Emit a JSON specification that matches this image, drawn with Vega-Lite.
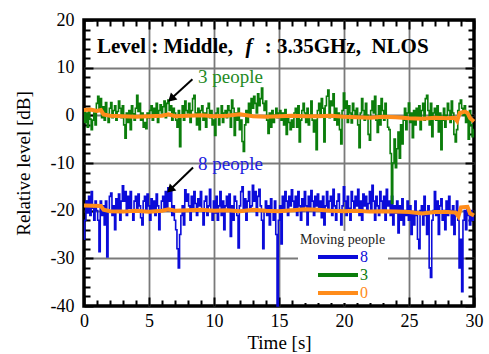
{
"$schema": "https://vega.github.io/schema/vega-lite/v6.json",
"width": 390, "height": 286,
"autosize": {"type": "none"},
"padding": {"left": 84, "top": 20, "right": 15, "bottom": 48},
"config": {"font": "Liberation Serif", "view": {"stroke": "black", "strokeWidth": 3.5},
  "axis": {"labelFont": "Liberation Serif", "titleFont": "Liberation Serif", "labelFontSize": 18, "titleFontSize": 19, "titleFontWeight": "normal", "labelColor": "black", "titleColor": "black", "domain": false, "tickColor": "black", "tickWidth": 2, "gridColor": "#7a7a7a", "gridWidth": 1.8, "labelFlush": false}},
"datasets": {
"noisy": [
{"t":0,"8":-26,"3":1},{"t":0.1,"8":-22,"3":-1.5},{"t":0.2,"8":-18,"3":0.5},{"t":0.3,"8":-20.5,"3":-2.5},{"t":0.4,"8":-17,"3":1.2},{"t":0.5,"8":-21,"3":-0.8},{"t":0.6,"8":-16,"3":-3},{"t":0.7,"8":-19.5,"3":-1},{"t":0.8,"8":-22,"3":0.5},{"t":0.9,"8":-18,"3":-2},
{"t":1,"8":-20,"3":2.5},{"t":1.1,"8":-22,"3":4},{"t":1.2,"8":-28.6,"3":1},{"t":1.3,"8":-18,"3":3.5},{"t":1.4,"8":-21,"3":-0.5},{"t":1.5,"8":-19,"3":1.8},{"t":1.6,"8":-23,"3":-1},{"t":1.7,"8":-18,"3":2.7},{"t":1.8,"8":-29.7,"3":0.2},{"t":1.9,"8":-20,"3":-1.5},
{"t":2,"8":-17,"3":1.5},{"t":2.1,"8":-16.3,"3":2.7},{"t":2.2,"8":-21,"3":-0.5},{"t":2.3,"8":-19,"3":1},{"t":2.4,"8":-24,"3":2},{"t":2.5,"8":-17.5,"3":-1},{"t":2.6,"8":-20,"3":0.8},{"t":2.7,"8":-16.5,"3":3},{"t":2.8,"8":-22,"3":1.5},{"t":2.9,"8":-18,"3":-0.5},
{"t":3,"8":-14.8,"3":2},{"t":3.1,"8":-18,"3":-2},{"t":3.2,"8":-16,"3":-4.8},{"t":3.3,"8":-21,"3":0.5},{"t":3.4,"8":-17,"3":-1.5},{"t":3.5,"8":-19.5,"3":1},{"t":3.6,"8":-16,"3":-3},{"t":3.7,"8":-20,"3":2},{"t":3.8,"8":-22,"3":0.3},{"t":3.9,"8":-18,"3":-1},
{"t":4,"8":-17,"3":1.5},{"t":4.1,"8":-20,"3":4.2},{"t":4.2,"8":-16.5,"3":0.8},{"t":4.3,"8":-19,"3":2.5},{"t":4.4,"8":-21.5,"3":-1},{"t":4.5,"8":-23,"3":0.5},{"t":4.6,"8":-18,"3":-2.5},{"t":4.7,"8":-17,"3":-1.5},{"t":4.8,"8":-20,"3":-2.8},{"t":4.9,"8":-16.5,"3":0.5},
{"t":5,"8":-19,"3":-0.5},{"t":5.1,"8":-22,"3":1},{"t":5.2,"8":-17.5,"3":2},{"t":5.3,"8":-20,"3":-1},{"t":5.4,"8":-18,"3":1.5},{"t":5.5,"8":-21,"3":0},{"t":5.6,"8":-16.5,"3":2.5},{"t":5.7,"8":-19,"3":-1.5},{"t":5.8,"8":-24,"3":1},{"t":5.9,"8":-20,"3":2.2},
{"t":6,"8":-18,"3":0.5},{"t":6.1,"8":-17,"3":1.8},{"t":6.2,"8":-19.5,"3":3},{"t":6.3,"8":-16,"3":-0.5},{"t":6.4,"8":-20,"3":2.5},{"t":6.5,"8":-15.2,"3":3.2},{"t":6.6,"8":-18,"3":1},{"t":6.7,"8":-16,"3":2},{"t":6.8,"8":-21,"3":-1},{"t":6.9,"8":-19,"3":1.5},
{"t":7,"8":-22,"3":0.5},{"t":7.1,"8":-24,"3":-1},{"t":7.2,"8":-28,"3":-2.5},{"t":7.3,"8":-32,"3":1},{"t":7.4,"8":-25,"3":-6.6},{"t":7.5,"8":-21,"3":0},{"t":7.6,"8":-19,"3":2},{"t":7.7,"8":-23,"3":-1},{"t":7.8,"8":-15.6,"3":3},{"t":7.9,"8":-18,"3":1},
{"t":8,"8":-16.5,"3":0.5},{"t":8.1,"8":-19,"3":2.5},{"t":8.2,"8":-22,"3":-1.5},{"t":8.3,"8":-17,"3":1},{"t":8.4,"8":-20,"3":3.5},{"t":8.5,"8":-16,"3":4.2},{"t":8.6,"8":-18.5,"3":0.5},{"t":8.7,"8":-21,"3":-2},{"t":8.8,"8":-17.5,"3":1.5},{"t":8.9,"8":-19,"3":-3},
{"t":9,"8":-16,"3":1},{"t":9.1,"8":-20,"3":2},{"t":9.2,"8":-23,"3":-1},{"t":9.3,"8":-18,"3":0.5},{"t":9.4,"8":-17,"3":-2.5},{"t":9.5,"8":-21,"3":1.5},{"t":9.6,"8":-19,"3":2.5},{"t":9.7,"8":-15.5,"3":-0.5},{"t":9.8,"8":-20,"3":1},{"t":9.9,"8":-22,"3":-2},
{"t":10,"8":-18,"3":-1},{"t":10.1,"8":-20.5,"3":-4.2},{"t":10.2,"8":-17,"3":0.5},{"t":10.3,"8":-22,"3":1.5},{"t":10.4,"8":-19,"3":-2},{"t":10.5,"8":-16,"3":0},{"t":10.6,"8":-21,"3":2},{"t":10.7,"8":-18,"3":-1.5},{"t":10.8,"8":-24,"3":0.5},{"t":10.9,"8":-19,"3":1},
{"t":11,"8":-17,"3":-0.5},{"t":11.1,"8":-20,"3":2},{"t":11.2,"8":-16.5,"3":1},{"t":11.3,"8":-25.4,"3":-2.5},{"t":11.4,"8":-19,"3":3.2},{"t":11.5,"8":-22,"3":1.5},{"t":11.6,"8":-17,"3":-4.2},{"t":11.7,"8":-18,"3":0.5},{"t":11.8,"8":-21,"3":-1},{"t":11.9,"8":-27.8,"3":1.5},
{"t":12,"8":-19,"3":-3},{"t":12.1,"8":-16,"3":-1},{"t":12.2,"8":-15,"3":-5.5},{"t":12.3,"8":-20,"3":-7.6},{"t":12.4,"8":-17.5,"3":-2},{"t":12.5,"8":-22,"3":1},{"t":12.6,"8":-18,"3":-1.5},{"t":12.7,"8":-16,"3":2.5},{"t":12.8,"8":-20,"3":0},{"t":12.9,"8":-19,"3":3.5},
{"t":13,"8":-14.7,"3":1.5},{"t":13.1,"8":-18,"3":4},{"t":13.2,"8":-16,"3":2.5},{"t":13.3,"8":-21,"3":0.5},{"t":13.4,"8":-17,"3":4.5},{"t":13.5,"8":-15.5,"3":2},{"t":13.6,"8":-19,"3":3.5},{"t":13.7,"8":-22,"3":5.7},{"t":13.8,"8":-28,"3":2.5},{"t":13.9,"8":-20,"3":1},
{"t":14,"8":-18,"3":3},{"t":14.1,"8":-21,"3":-1},{"t":14.2,"8":-19,"3":-3.8},{"t":14.3,"8":-23,"3":0.5},{"t":14.4,"8":-17.5,"3":-2.5},{"t":14.5,"8":-20,"3":1},{"t":14.6,"8":-22,"3":-1.5},{"t":14.7,"8":-18,"3":0},{"t":14.8,"8":-25,"3":1.5},{"t":14.9,"8":-40,"3":-0.5},
{"t":15,"8":-22,"3":0.5},{"t":15.1,"8":-19,"3":1},{"t":15.2,"8":-27,"3":-1},{"t":15.3,"8":-17,"3":0.5},{"t":15.4,"8":-20,"3":-2},{"t":15.5,"8":-16,"3":1.2},{"t":15.6,"8":-18,"3":-4},{"t":15.7,"8":-21,"3":0},{"t":15.8,"8":-17,"3":-1.5},{"t":15.9,"8":-19,"3":-3},
{"t":16,"8":-15.6,"3":-1},{"t":16.1,"8":-18,"3":-2.5},{"t":16.2,"8":-20,"3":0.5},{"t":16.3,"8":-17,"3":1.5},{"t":16.4,"8":-21,"3":-2.5},{"t":16.5,"8":-16,"3":2},{"t":16.6,"8":-19,"3":-5.6},{"t":16.7,"8":-22,"3":-1},{"t":16.8,"8":-17.5,"3":1},{"t":16.9,"8":-20,"3":2.5},
{"t":17,"8":-16,"3":0.5},{"t":17.1,"8":-19,"3":-1.5},{"t":17.2,"8":-23,"3":1.5},{"t":17.3,"8":-17,"3":-2},{"t":17.4,"8":-20,"3":0},{"t":17.5,"8":-15.8,"3":3},{"t":17.6,"8":-18,"3":-1},{"t":17.7,"8":-21,"3":-3.5},{"t":17.8,"8":-17,"3":-1},{"t":17.9,"8":-19,"3":-7.2},
{"t":18,"8":-16.5,"3":1},{"t":18.1,"8":-20,"3":2.5},{"t":18.2,"8":-18,"3":0},{"t":18.3,"8":-21.5,"3":3.5},{"t":18.4,"8":-17,"3":1.5},{"t":18.5,"8":-23,"3":-5.6},{"t":18.6,"8":-19,"3":2},{"t":18.7,"8":-16,"3":4},{"t":18.8,"8":-20,"3":5.3},{"t":18.9,"8":-18,"3":-0.5},
{"t":19,"8":-17,"3":3},{"t":19.1,"8":-21,"3":2},{"t":19.2,"8":-15.5,"3":4.5},{"t":19.3,"8":-19,"3":-1},{"t":19.4,"8":-22,"3":1.5},{"t":19.5,"8":-18,"3":-2},{"t":19.6,"8":-16.5,"3":0.5},{"t":19.7,"8":-20,"3":-3},{"t":19.8,"8":-23,"3":-6},{"t":19.9,"8":-19,"3":1},
{"t":20,"8":-15,"3":4.7},{"t":20.1,"8":-18,"3":1.5},{"t":20.2,"8":-21,"3":3},{"t":20.3,"8":-17,"3":-1.5},{"t":20.4,"8":-19.5,"3":2},{"t":20.5,"8":-22,"3":0.5},{"t":20.6,"8":-16,"3":-1.6},{"t":20.7,"8":-18,"3":2.5},{"t":20.8,"8":-20,"3":1},{"t":20.9,"8":-17,"3":-0.5},
{"t":21,"8":-19,"3":1.5},{"t":21.1,"8":-15.5,"3":-2},{"t":21.2,"8":-21,"3":-6.8},{"t":21.3,"8":-18,"3":0.5},{"t":21.4,"8":-22,"3":3.5},{"t":21.5,"8":-16.5,"3":1},{"t":21.6,"8":-19,"3":-1},{"t":21.7,"8":-17,"3":2.5},{"t":21.8,"8":-20,"3":0},{"t":21.9,"8":-18.5,"3":-4},
{"t":22,"8":-16,"3":-5.2},{"t":22.1,"8":-20,"3":1},{"t":22.2,"8":-14.7,"3":3},{"t":22.3,"8":-18,"3":0.5},{"t":22.4,"8":-22,"3":4},{"t":22.5,"8":-17,"3":-1},{"t":22.6,"8":-19,"3":-3.6},{"t":22.7,"8":-21,"3":2},{"t":22.8,"8":-16,"3":-2},{"t":22.9,"8":-18,"3":3.5},
{"t":23,"8":-20,"3":1},{"t":23.1,"8":-17,"3":-1},{"t":23.2,"8":-22,"3":2.5},{"t":23.3,"8":-15.5,"3":-0.5},{"t":23.4,"8":-19,"3":-2.5},{"t":23.5,"8":-18,"3":-3},{"t":23.6,"8":-21,"3":-8},{"t":23.7,"8":-17,"3":-18.5},{"t":23.8,"8":-23,"3":-10},{"t":23.9,"8":-19,"3":-5},
{"t":24,"8":-20.5,"3":-11},{"t":24.1,"8":-18,"3":-7},{"t":24.2,"8":-24.7,"3":-3.5},{"t":24.3,"8":-19,"3":-9},{"t":24.4,"8":-22,"3":-2},{"t":24.5,"8":-17.5,"3":-6},{"t":24.6,"8":-23,"3":-1},{"t":24.7,"8":-20,"3":1.5},{"t":24.8,"8":-21,"3":-3},{"t":24.9,"8":-18,"3":0.5},
{"t":25,"8":-22,"3":2.6},{"t":25.1,"8":-19,"3":-1.5},{"t":25.2,"8":-25,"3":0.5},{"t":25.3,"8":-20.5,"3":-4.7},{"t":25.4,"8":-23,"3":1},{"t":25.5,"8":-18,"3":-2},{"t":25.6,"8":-21,"3":1.5},{"t":25.7,"8":-26,"3":-0.5},{"t":25.8,"8":-28,"3":2},{"t":25.9,"8":-20,"3":-3},
{"t":26,"8":-19,"3":1},{"t":26.1,"8":-23,"3":2.5},{"t":26.2,"8":-17,"3":-1},{"t":26.3,"8":-21,"3":3.5},{"t":26.4,"8":-25,"3":4.2},{"t":26.5,"8":-19,"3":1},{"t":26.6,"8":-32,"3":-2},{"t":26.7,"8":-34,"3":2.5},{"t":26.8,"8":-22,"3":-4.5},{"t":26.9,"8":-20,"3":0.5},
{"t":27,"8":-16,"3":1.5},{"t":27.1,"8":-21,"3":-1},{"t":27.2,"8":-18,"3":2},{"t":27.3,"8":-25,"3":-3.5},{"t":27.4,"8":-19,"3":0.5},{"t":27.5,"8":-17.5,"3":-7.2},{"t":27.6,"8":-22,"3":-1},{"t":27.7,"8":-20,"3":1.5},{"t":27.8,"8":-24,"3":-2.5},{"t":27.9,"8":-18,"3":0},
{"t":28,"8":-21,"3":2.5},{"t":28.1,"8":-17,"3":1},{"t":28.2,"8":-20,"3":-1.5},{"t":28.3,"8":-23,"3":3},{"t":28.4,"8":-19,"3":0.5},{"t":28.5,"8":-25,"3":-4},{"t":28.6,"8":-21,"3":-5.6},{"t":28.7,"8":-18,"3":-3},{"t":28.8,"8":-22,"3":1},{"t":28.9,"8":-32,"3":2.5},
{"t":29,"8":-26,"3":3.2},{"t":29.1,"8":-37,"3":1.5},{"t":29.2,"8":-22,"3":0},{"t":29.3,"8":-20,"3":2},{"t":29.4,"8":-24,"3":-1.5},{"t":29.5,"8":-19,"3":0.5},{"t":29.6,"8":-21,"3":-5},{"t":29.7,"8":-23,"3":1},{"t":29.8,"8":-20,"3":-2},{"t":29.9,"8":-22,"3":-4.5},
{"t":30,"8":-21,"3":-3}
],
"ref": [
{"people":"0","k":"a","t":0,"v":1.1},{"people":"0","k":"a","t":0.5,"v":1.2},{"people":"0","k":"a","t":1,"v":0.9},{"people":"0","k":"a","t":1.3,"v":1.1},{"people":"0","k":"a","t":1.5,"v":0.2},{"people":"0","k":"a","t":2,"v":-0.1},{"people":"0","k":"a","t":3,"v":-0.2},{"people":"0","k":"a","t":4,"v":-0.3},{"people":"0","k":"a","t":5,"v":-0.2},{"people":"0","k":"a","t":6,"v":-0.1},{"people":"0","k":"a","t":6.5,"v":0.2},{"people":"0","k":"a","t":7,"v":-0.2},{"people":"0","k":"a","t":8,"v":-0.1},{"people":"0","k":"a","t":9,"v":0},{"people":"0","k":"a","t":10,"v":-0.2},{"people":"0","k":"a","t":11,"v":-0.1},{"people":"0","k":"a","t":12,"v":0.2},{"people":"0","k":"a","t":13,"v":-0.2},{"people":"0","k":"a","t":14,"v":-0.3},{"people":"0","k":"a","t":15,"v":-0.2},{"people":"0","k":"a","t":16,"v":-0.1},{"people":"0","k":"a","t":17,"v":-0.2},{"people":"0","k":"a","t":18,"v":-0.2},{"people":"0","k":"a","t":19,"v":-0.1},{"people":"0","k":"a","t":20,"v":-0.3},{"people":"0","k":"a","t":21,"v":-0.4},{"people":"0","k":"a","t":22,"v":-0.5},{"people":"0","k":"a","t":23,"v":-0.3},{"people":"0","k":"a","t":24,"v":-0.4},{"people":"0","k":"a","t":25,"v":-0.6},{"people":"0","k":"a","t":26,"v":-0.7},{"people":"0","k":"a","t":27,"v":-0.5},{"people":"0","k":"a","t":28,"v":-0.6},{"people":"0","k":"a","t":28.5,"v":-0.5},{"people":"0","k":"a","t":28.7,"v":-1.2},{"people":"0","k":"a","t":28.9,"v":0.5},{"people":"0","k":"a","t":29.3,"v":0.8},{"people":"0","k":"a","t":29.5,"v":0.5},{"people":"0","k":"a","t":29.7,"v":-0.6},{"people":"0","k":"a","t":30,"v":-1.3},
{"people":"0","k":"b","t":0,"v":-18.9},{"people":"0","k":"b","t":1.3,"v":-19.0},{"people":"0","k":"b","t":1.5,"v":-19.8},{"people":"0","k":"b","t":2,"v":-20.1},{"people":"0","k":"b","t":3,"v":-20.2},{"people":"0","k":"b","t":4,"v":-20},{"people":"0","k":"b","t":5,"v":-20.2},{"people":"0","k":"b","t":6,"v":-20},{"people":"0","k":"b","t":6.5,"v":-19.7},{"people":"0","k":"b","t":7,"v":-20},{"people":"0","k":"b","t":8,"v":-19.9},{"people":"0","k":"b","t":9,"v":-19.8},{"people":"0","k":"b","t":10,"v":-20},{"people":"0","k":"b","t":11,"v":-19.9},{"people":"0","k":"b","t":12,"v":-20.1},{"people":"0","k":"b","t":13,"v":-19.8},{"people":"0","k":"b","t":14,"v":-20},{"people":"0","k":"b","t":15,"v":-20.1},{"people":"0","k":"b","t":16,"v":-19.9},{"people":"0","k":"b","t":17,"v":-19.7},{"people":"0","k":"b","t":18,"v":-19.8},{"people":"0","k":"b","t":19,"v":-20},{"people":"0","k":"b","t":20,"v":-20.1},{"people":"0","k":"b","t":21,"v":-20},{"people":"0","k":"b","t":22,"v":-20.2},{"people":"0","k":"b","t":23,"v":-20.1},{"people":"0","k":"b","t":24,"v":-20.2},{"people":"0","k":"b","t":25,"v":-20.3},{"people":"0","k":"b","t":26,"v":-20.6},{"people":"0","k":"b","t":27,"v":-20.3},{"people":"0","k":"b","t":28,"v":-20.3},{"people":"0","k":"b","t":28.6,"v":-20.4},{"people":"0","k":"b","t":28.8,"v":-21.2},{"people":"0","k":"b","t":29,"v":-19.3},{"people":"0","k":"b","t":29.5,"v":-19.2},{"people":"0","k":"b","t":29.7,"v":-20.6},{"people":"0","k":"b","t":30,"v":-21}
],
"frame": [{"t":0,"v":-40},{"t":30,"v":20}]
},
"resolve": {"axis": {"x": "independent", "y": "independent"}},
"layer": [
{"data": {"name": "noisy"}, "transform": [{"fold": ["8","3"], "as": ["people","v"]}],
 "mark": {"type": "line", "interpolate": "step", "strokeWidth": 1.6},
 "encoding": {
  "x": {"field": "t", "type": "quantitative", "scale": {"domain": [0,30], "nice": false, "zero": false}, "axis": {"orient": "bottom", "values": [0,1,2,3,4,5,6,7,8,9,10,11,12,13,14,15,16,17,18,19,20,21,22,23,24,25,26,27,28,29,30], "labelExpr": "datum.value % 5 === 0 ? '' + datum.value : ''", "ticks": true, "grid": false,
    "tickSize": {"condition": {"test": "datum.value % 5 === 0", "value": -9}, "value": -6},
    "labelPadding": 15, "title": "Time [s]", "titlePadding": 3}},
  "y": {"field": "v", "type": "quantitative", "scale": {"domain": [-40,20], "nice": false, "zero": false}, "axis": {"orient": "left", "values": [-40,-38,-36,-34,-32,-30,-28,-26,-24,-22,-20,-18,-16,-14,-12,-10,-8,-6,-4,-2,0,2,4,6,8,10,12,14,16,18,20], "labelExpr": "datum.value % 10 === 0 ? '' + datum.value : ''", "ticks": true, "grid": false,
    "tickSize": {"condition": {"test": "datum.value % 10 === 0", "value": -9}, "value": -6},
    "labelPadding": 19, "title": "Relative level [dB]", "titlePadding": 17}},
  "color": {"field": "people", "type": "nominal", "scale": {"domain": ["8","3","0"], "range": ["#0b0bd9","#0b7d0b","#ff8c1a"]},
   "legend": {"orient": "none", "legendX": 214, "legendY": 211, "title": "Moving people", "titleFontSize": 14, "titleFontWeight": "normal", "titleColor": "#222", "titleFont": "Liberation Serif", "titlePadding": 0, "labelFontSize": 16, "labelFont": "Liberation Serif", "symbolType": "M-2.5,0H2.5", "symbolSize": 256, "symbolStrokeWidth": 4, "symbolOffset": 28, "labelOffset": 12, "fillColor": "white", "padding": 2, "rowPadding": -5,
    "encode": {"labels": {"update": {"fill": {"scale": "color", "field": "value"}}}}}}
 }},
{"data": {"name": "ref"}, "mark": {"type": "line", "strokeWidth": 4},
 "encoding": {
  "x": {"field": "t", "type": "quantitative", "scale": {"domain": [0,30], "nice": false, "zero": false}, "axis": null},
  "y": {"field": "v", "type": "quantitative", "scale": {"domain": [-40,20], "nice": false, "zero": false}, "axis": null},
  "color": {"field": "people", "type": "nominal"},
  "detail": {"field": "k"}
 }},
{"data": {"name": "frame"}, "mark": {"type": "point", "opacity": 0},
 "encoding": {
  "x": {"field": "t", "type": "quantitative", "axis": {"orient": "top", "values": [0,1,2,3,4,5,6,7,8,9,10,11,12,13,14,15,16,17,18,19,20,21,22,23,24,25,26,27,28,29,30], "grid": true, "ticks": true, "labels": false, "title": null,
    "tickSize": {"condition": {"test": "datum.value % 5 === 0", "value": -9}, "value": -6},
    "gridOpacity": {"condition": {"test": "datum.value % 5 === 0 && datum.value > 0 && datum.value < 30", "value": 1}, "value": 0}}},
  "y": {"field": "v", "type": "quantitative", "axis": {"orient": "right", "values": [-40,-38,-36,-34,-32,-30,-28,-26,-24,-22,-20,-18,-16,-14,-12,-10,-8,-6,-4,-2,0,2,4,6,8,10,12,14,16,18,20], "grid": true, "ticks": true, "labels": false, "title": null,
    "tickSize": {"condition": {"test": "datum.value % 10 === 0", "value": -9}, "value": -6},
    "gridOpacity": {"condition": {"test": "datum.value % 10 === 0 && datum.value > -40 && datum.value < 20", "value": 1}, "value": 0}}}
 }},
{"data": {"values": [{"t": 8.77, "v": 8.05, "s": "3 people"}]}, "mark": {"type": "text", "align": "left", "baseline": "middle", "fontSize": 19, "font": "Liberation Serif", "color": "#1f8a1f"},
 "encoding": {"x": {"field": "t", "type": "quantitative", "axis": null}, "y": {"field": "v", "type": "quantitative", "axis": null}, "text": {"field": "s"}}},
{"data": {"values": [{"t": 8.77, "v": -10.2, "s": "8 people"}]}, "mark": {"type": "text", "align": "left", "baseline": "middle", "fontSize": 19, "font": "Liberation Serif", "color": "#2020e0"},
 "encoding": {"x": {"field": "t", "type": "quantitative", "axis": null}, "y": {"field": "v", "type": "quantitative", "axis": null}, "text": {"field": "s"}}},
{"data": {"values": [{"t": 8.34, "v": 7.57, "t2": 6.7, "v2": 3.5}, {"t": 8.39, "v": -10.96, "t2": 6.62, "v2": -15.6}]}, "mark": {"type": "rule", "strokeWidth": 2, "color": "black"},
 "encoding": {"x": {"field": "t", "type": "quantitative", "axis": null}, "y": {"field": "v", "type": "quantitative", "axis": null}, "x2": {"field": "t2"}, "y2": {"field": "v2"}}},
{"data": {"values": [{"t": 6.78, "v": 3.65}, {"t": 6.70, "v": -15.43}]}, "mark": {"type": "point", "shape": "triangle", "angle": 227, "size": 90, "filled": true, "color": "black", "opacity": 1},
 "encoding": {"x": {"field": "t", "type": "quantitative", "axis": null}, "y": {"field": "v", "type": "quantitative", "axis": null}}},
{"data": {"values": [{"t": 1.0, "v": 13.1, "s": "Level : Middle,"}, {"t": 13.9, "v": 13.1, "s": ": 3.35GHz,\u00a0 NLOS"}]}, "mark": {"type": "text", "align": "left", "baseline": "alphabetic", "fontSize": 21, "fontWeight": "bold", "font": "Liberation Serif", "color": "black"},
 "encoding": {"x": {"field": "t", "type": "quantitative", "axis": null}, "y": {"field": "v", "type": "quantitative", "axis": null}, "text": {"field": "s"}}},
{"data": {"values": [{"t": 12.43, "v": 13.1, "s": "f"}]}, "mark": {"type": "text", "align": "left", "baseline": "alphabetic", "fontSize": 21, "fontWeight": "bold", "fontStyle": "italic", "font": "Liberation Serif", "color": "black"},
 "encoding": {"x": {"field": "t", "type": "quantitative", "axis": null}, "y": {"field": "v", "type": "quantitative", "axis": null}, "text": {"field": "s"}}}
]
}
